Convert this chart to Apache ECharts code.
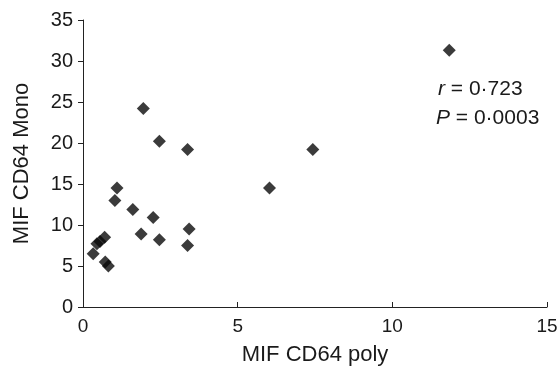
<!DOCTYPE html>
<html>
<head>
<meta charset="utf-8">
<script src="https://cdn.jsdelivr.net/npm/echarts@6/dist/echarts.min.js"></script>
<style>html,body{margin:0;padding:0;background:#fff}#c{width:557px;height:369px}</style>
</head>
<body>
<div id="c"></div>
<script>
var xPoly = [1.95, 2.47, 3.38, 1.10, 1.03, 1.61, 2.27, 1.88, 2.47, 3.43, 3.38, 0.33, 0.45, 0.55, 0.70, 0.72, 0.82, 6.03, 7.43, 11.84];
var yMono = [24.2, 20.2, 19.2, 14.5, 13.0, 11.9, 10.9, 8.9, 8.2, 9.5, 7.5, 6.5, 7.7, 8.0, 8.5, 5.5, 5.0, 14.5, 19.2, 31.3];
var xTicks = [0, 5, 10, 15];
var yTicks = [0, 5, 10, 15, 20, 25, 30, 35];
var statR = '0·723';
var statP = '0·0003';

var pts = xPoly.map(function (x, i) { return [x, yMono[i]]; });
var font = 'Liberation Sans, Arial, sans-serif';
var txt = '#1a1a1a';
var chart = echarts.init(document.getElementById('c'), null, {renderer: 'canvas'});
chart.setOption({
  animation: false,
  grid: {left: 83, right: 10, top: 20, bottom: 62, containLabel: false, outerBoundsMode: 'none'},
  xAxis: {
    type: 'value', min: xTicks[0], max: xTicks[xTicks.length - 1], interval: 5,
    name: 'MIF CD64 poly', nameLocation: 'middle', nameGap: 37,
    nameTextStyle: {fontFamily: font, fontSize: 22, color: txt},
    axisLine: {lineStyle: {color: '#222', width: 1}},
    axisTick: {inside: true, length: 5, lineStyle: {color: '#222'}},
    axisLabel: {fontFamily: font, fontSize: 19, color: txt, margin: 10},
    splitLine: {show: false}
  },
  yAxis: {
    type: 'value', min: yTicks[0], max: yTicks[yTicks.length - 1], interval: 5,
    name: 'MIF CD64 Mono', nameLocation: 'middle', nameGap: 50,
    nameTextStyle: {fontFamily: font, fontSize: 22, color: txt},
    axisLine: {lineStyle: {color: '#222', width: 1}},
    axisTick: {inside: false, length: 5, lineStyle: {color: '#222'}},
    axisLabel: {fontFamily: font, fontSize: 20, color: txt, margin: 10},
    splitLine: {show: false}
  },
  series: [{
    type: 'scatter', data: pts, symbol: 'diamond', symbolSize: 13,
    itemStyle: {color: '#0a0a0a'}
  }],
  graphic: [
    {type: 'text', left: 438, top: 79, style: {
      text: '{i|r} = ' + statR,
      rich: {i: {fontStyle: 'italic', fontFamily: font, fontSize: 21, fill: txt}},
      font: '21px ' + font, fill: txt}},
    {type: 'text', left: 436, top: 108, style: {
      text: '{i|P} = ' + statP,
      rich: {i: {fontStyle: 'italic', fontFamily: font, fontSize: 21, fill: txt}},
      font: '21px ' + font, fill: txt}}
  ]
});
</script>
</body>
</html>
